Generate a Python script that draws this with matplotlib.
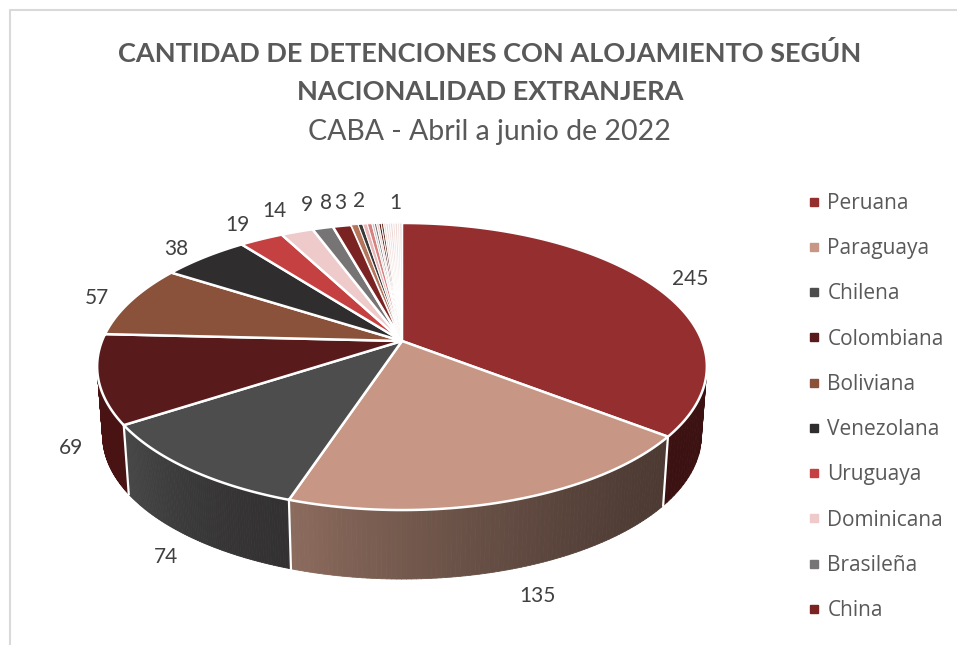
#!/usr/bin/env python3
"""Detenciones con alojamiento segun nacionalidad extranjera - pie 3D."""

import numpy as np
import matplotlib
matplotlib.use("Agg")
import matplotlib.pyplot as plt
from matplotlib.collections import PolyCollection
from matplotlib.lines import Line2D
from matplotlib.patches import Polygon

plt.rcParams["font.family"] = ["Lato", "DejaVu Sans"]

# data
nacionalidades = ["Peruana", "Paraguaya", "Chilena", "Colombiana", "Boliviana",
                  "Venezolana", "Uruguaya", "Dominicana", "Brasileña", "China"]
valores_top = [245, 135, 74, 69, 57, 38, 19, 14, 9, 8]
valores_resto = [3, 2, 2, 2, 1, 1, 1, 1, 1, 1, 1, 1, 1, 1, 1, 1, 1]
valores = np.array(valores_top + valores_resto, dtype=float)

colores_top = ["#952f2f", "#c79684", "#4d4d4d", "#581a1a", "#8a523a",
               "#2f2d2d", "#c54040", "#eecacb", "#767474", "#7b2323"]
colores_resto = ["#b5755c", "#3b3838", "#e8b8b8", "#d98080", "#c8c4c4", "#777575",
                 "#eeccc8", "#5c1a1a", "#6b3a2a", "#efdcd8", "#f0d8d8", "#f2e0dc",
                 "#eed8d4", "#f3e3e3", "#efdcd8", "#f3e4e2", "#eedcdc"]
colores = colores_top + colores_resto

# side shading (start, end of each visible slice, clockwise)
lados = {0: ("#3c1111", "#3c1111"), 1: ("#4c3a33", "#8b6b5d"),
         2: ("#333131", "#484848"), 3: ("#4a1313", "#4a1313")}

etiquetas = ["245", "135", "74", "69", "57", "38", "19", "14", "9", "8", "3", "2", "1"]
etiquetas_xy = [(690, 279), (537, 596), (166, 557), (71, 448), (97, 298), (176, 249),
                (237, 225), (274, 211), (307, 205), (326, 203), (340, 203),
                (359, 201), (395, 203)]

# perspective of the pie, in image pixels
CX, CY = 402, 341
C, A, K = 0.1777, 139, 300
DEPTH, SHRINK = 69, 0.982


def top_rim(theta, r=1.0):
    x, y = r * np.sin(theta), r * np.cos(theta)
    d = 1 + C * y
    return CX + K * x / d, CY - A * y / d


def bottom_rim(theta):
    px, py = top_rim(theta)
    return CX + (px - CX) * SHRINK, py + DEPTH


def hex_rgb(c):
    return np.array(matplotlib.colors.to_rgb(c))


fig = plt.figure(figsize=(9.57, 6.45), dpi=100, facecolor="white")
ax = fig.add_axes([0, 0, 1, 1])
ax.set_xlim(0, 957)
ax.set_ylim(645, 0)
ax.axis("off")

# chart frame, only top and left show in the capture
ax.plot([10, 10, 957], [645, 10, 10], color="#d9d9d9", lw=1.5)

bordes = np.cumsum(np.concatenate([[0], valores])) / valores.sum() * 2 * np.pi

# sides
for i in range(4):
    t = np.linspace(bordes[i], bordes[i + 1], 90)
    t = t[np.cos(t) < 0.45]
    polys, cols = [], []
    for j in range(len(t) - 1):
        tx0, ty0 = top_rim(t[j])
        tx1, ty1 = top_rim(t[j + 1])
        bx0, by0 = bottom_rim(t[j])
        bx1, by1 = bottom_rim(t[j + 1])
        polys.append([(tx0, ty0), (tx1, ty1), (bx1, by1), (bx0, by0)])
        f = (j / max(len(t) - 2, 1)) ** 1.5
        cols.append((1 - f) * hex_rgb(lados[i][0]) + f * hex_rgb(lados[i][1]))
    ax.add_collection(PolyCollection(polys, facecolors=cols, edgecolors=cols, lw=0.6, zorder=2))

# white seams on the side
for b in bordes[1:4]:
    x0, y0 = top_rim(b)
    x1, y1 = bottom_rim(b)
    ax.plot([x0, x1], [y0, y1], color="white", lw=1.6, zorder=3)

# top face
for i, color in enumerate(colores):
    t = np.linspace(bordes[i], bordes[i + 1], max(int(valores[i]) * 3, 6))
    xs, ys = top_rim(t)
    pts = [(CX, CY)] + list(zip(xs, ys))
    ax.add_patch(Polygon(pts, closed=True, facecolor=color, edgecolor="white",
                         lw=1.8 if i < 10 else 0.7, joinstyle="round", zorder=4))

for (x, y), s in zip(etiquetas_xy, etiquetas):
    ax.text(x, y, s, ha="center", va="center", fontsize=15, color="#404040", zorder=5)

# legend
handles = [Line2D([], [], ls="", marker="s", ms=5.5, color=c) for c in colores_top]
ax.legend(handles, nacionalidades, loc="upper left", bbox_to_anchor=(806 / 957, 1 - 193 / 645),
          bbox_transform=fig.transFigure, frameon=False, labelcolor="#595959",
          prop={"family": "Open Sans", "size": 15}, handlelength=0.75, handletextpad=0.28,
          labelspacing=1.163, borderpad=0, borderaxespad=0)

# titles
ax.text(490, 53, "CANTIDAD DE DETENCIONES CON ALOJAMIENTO SEGÚN", ha="center", va="center",
        fontsize=19.5, fontweight="bold", color="#595959")
ax.text(490, 92, "NACIONALIDAD EXTRANJERA", ha="center", va="center",
        fontsize=19.5, fontweight="bold", color="#595959")
ax.text(489, 132, "CABA - Abril a junio de 2022", ha="center", va="center",
        fontsize=20.5, color="#595959")

fig.savefig("out.png", dpi=100)
